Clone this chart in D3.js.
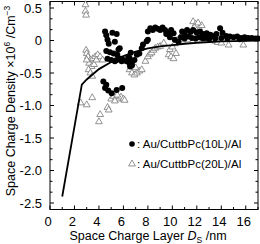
<!DOCTYPE html>
<html>
<head>
<meta charset="utf-8">
<style>
  body { margin: 0; background: #fff; }
  svg { display: block; font-family: "Liberation Sans", Arial, sans-serif; }
</style>
</head>
<body>
<svg width="260" height="244"></svg>
<script src="https://cdn.jsdelivr.net/npm/d3@7"></script>
<script>

// 10L series (filled dots), [Ds nm, density x1e6 C/m3]
var dots10L = [
  [4.5,0.14],[4.6,0.08],[5.1,0.12],[4.7,0.01],[5.3,-0.02],[4.8,-0.05],[5.45,0.1],
  [4.6,-0.16],[4.9,-0.18],[5.2,-0.2],[5.5,-0.22],[5.8,-0.28],[6.0,-0.3],[4.7,-0.28],
  [5.0,-0.3],[5.3,-0.32],[5.6,-0.14],[5.7,-0.12],
  [4.36,-0.63],[4.5,-0.73],[4.76,-0.77],[5.04,-0.81],[5.45,-0.76],[5.9,-0.73],[4.6,-0.68],
  [6.26,-0.32],[6.4,-0.25],[6.5,-0.27],[6.5,-0.35],[6.7,-0.38],[6.9,-0.3],[7.1,-0.22],
  [7.3,-0.2],[6.6,-0.19],[5.86,-0.32],[5.45,-0.3],[7.5,-0.12],[7.6,-0.06],[7.9,-0.01],
  [8.0,0.01],[6.55,-0.4],[6.7,-0.33],
  [8.0,0.14],[8.2,0.19],[8.4,0.16],[8.6,0.2],[8.8,0.18],[9.0,0.16],[9.2,0.2],[9.4,0.16],
  [9.5,0.1],[9.7,0.12],[9.9,0.16],[10.1,0.11],[10.2,0.01],[10.5,-0.02],[9.8,0.05],
  [10.8,0.14],[11.0,0.1],[11.2,0.16],[11.5,0.13],[11.7,0.16],[12.0,0.12],[12.25,0.14],
  [12.5,0.1],[12.8,0.11],[13.1,0.09],
  [10.7,0.05],[11.0,0.03],[11.3,0.06],[11.6,0.04],[11.9,0.03],[12.2,0.05],[12.5,0.03],
  [12.8,0.04],[13.0,0.02],
  [13.3,0.07],[13.6,0.1],[13.9,0.19],[14.1,0.12],[14.4,0.07],[14.7,0.06],[15.0,0.05],
  [15.3,0.06],[15.6,0.04],[15.9,0.05],[16.2,0.04],[16.5,0.04],[16.8,0.03],[17.0,0.03],
  [13.5,0.03],[14.0,0.04],[14.5,0.03],[15.5,0.02],[16.0,0.03]
];

// 20L series (open triangles)
var tris20L = [
  [2.9,0.55],[2.9,0.45],[2.95,0.39],
  [2.95,-0.15],[3.0,-0.2],[3.1,-0.25],[3.3,-0.3],[3.5,-0.28],[3.7,-0.25],[3.9,-0.22],
  [3.2,-0.35],[3.4,-0.4],[3.15,-0.45],[3.3,-0.5],[3.45,-0.55],[3.6,-0.37],[3.0,-0.3],
  [3.8,-0.3],[4.1,-0.25],[4.3,-0.3],
  [2.5,-0.96],[3.0,-0.99],[3.45,-0.88],
  [4.1,-1.14],[4.0,-1.25],[4.7,-1.03],[4.8,-1.07],
  [5.0,-0.9],[5.2,-0.86],[5.4,-0.88],[5.6,-0.9],[5.8,-0.87],[6.0,-0.9],[6.1,-0.92],
  [5.3,-0.93],[5.5,-0.84],
  [6.5,-0.45],[6.7,-0.5],[6.9,-0.53],[7.1,-0.5],[7.3,-0.47],[7.5,-0.45],[6.6,-0.37],[7.0,-0.42],
  [7.8,-0.32],[8.0,-0.25],[8.15,-0.21],[8.3,-0.19],[8.45,-0.15],[8.6,-0.12],[8.8,-0.1],
  [9.0,-0.09],[9.3,-0.04],
  [9.7,-0.22],[9.9,-0.25],[10.1,-0.28],[10.3,-0.2],[9.8,-0.14],[10.0,-0.1],[10.2,-0.05],
  [10.4,0.0],[10.6,0.04],
  [11.7,0.29],[11.9,0.25],[12.0,0.22],[12.2,0.19],[12.4,0.23],[11.8,0.2],[12.1,0.27],
  [10.9,0.01],[11.3,0.01],[11.7,0.0],[12.1,0.01],[12.5,0.01],[12.9,0.02],
  [13.2,0.02],[13.5,-0.01],[13.7,-0.03],[14.0,-0.04],[14.6,-0.07],[15.8,-0.07]
];

// fitted curve
var fitLine = [
  [1,-2.4],[2.6,-0.68],[3,-0.6],[4,-0.44],[5,-0.33],[6,-0.24],[7,-0.17],[8,-0.12],
  [9,-0.09],[10,-0.07],[11,-0.05],[12,-0.035],[13,-0.025],[14,-0.015],[15,-0.01],
  [16,-0.005],[17,0]
];

var xTicks = [0,2,4,6,8,10,12,14,16];
var yTicks = [0.5,0,-0.5,-1.0,-1.5,-2.0,-2.5];
var legendLabels = ["Au/CuttbPc(10L)/Al", "Au/CuttbPc(20L)/Al"];

var svg = d3.select("svg");
var x = d3.scaleLinear().domain([0, 17]).range([50, 258]);
var y = d3.scaleLinear().domain([-2.6, 0.6]).range([209.5, 1.5]);

var g = svg.append("g");

// frame
g.append("rect")
    .attr("x", 50).attr("y", 1.5)
    .attr("width", 208).attr("height", 208)
    .attr("fill", "none").attr("stroke", "#000").attr("stroke-width", 1);

// ticks all round, pointing in
var xMinor = d3.range(0, 18, 1);
var yMinor = d3.range(-2.5, 0.61, 1/6);
xMinor.forEach(function(v) {
  var len = v % 2 === 0 ? 4 : 2.5;
  g.append("line").attr("x1", x(v)).attr("x2", x(v)).attr("y1", 209.5).attr("y2", 209.5 - len).attr("stroke", "#000");
  g.append("line").attr("x1", x(v)).attr("x2", x(v)).attr("y1", 1.5).attr("y2", 1.5 + len).attr("stroke", "#000");
});
yMinor.forEach(function(v, i) {
  var len = i % 3 === 0 ? 4 : 2.5;
  g.append("line").attr("y1", y(v)).attr("y2", y(v)).attr("x1", 50).attr("x2", 50 + len).attr("stroke", "#000");
  g.append("line").attr("y1", y(v)).attr("y2", y(v)).attr("x1", 258).attr("x2", 258 - len).attr("stroke", "#000");
});

g.selectAll(".xl").data(xTicks).enter().append("text")
    .attr("x", function(d) { return x(d) - 2; })
    .attr("y", 226)
    .attr("text-anchor", "middle")
    .attr("font-size", 13)
    .text(function(d) { return d; });

g.selectAll(".yl").data(yTicks).enter().append("text")
    .attr("x", 42)
    .attr("y", function(d) { return y(d) + 4.5; })
    .attr("text-anchor", "end")
    .attr("font-size", 13)
    .text(function(d) { return d === 0 ? "0" : d.toFixed(1); });

// triangles
var tri = d3.symbol().type(d3.symbolTriangle).size(20);
g.selectAll(".tri").data(tris20L).enter().append("path")
    .attr("d", tri)
    .attr("transform", function(d) { return "translate(" + x(d[0]) + "," + y(d[1]) + ")"; })
    .attr("fill", "#fff")
    .attr("stroke", "#777")
    .attr("stroke-width", 0.8);

// dots
g.selectAll(".dot").data(dots10L).enter().append("circle")
    .attr("cx", function(d) { return x(d[0]); })
    .attr("cy", function(d) { return y(d[1]); })
    .attr("r", 3)
    .attr("fill", "#000");

// fit line
g.append("path")
    .datum(fitLine)
    .attr("d", d3.line().x(function(d) { return x(d[0]); }).y(function(d) { return y(d[1]); }))
    .attr("fill", "none")
    .attr("stroke", "#000")
    .attr("stroke-width", 1.8);

// legend
g.append("circle").attr("cx", 132).attr("cy", 144).attr("r", 2.8).attr("fill", "#000");
g.append("path").attr("d", tri).attr("transform", "translate(132,164)")
    .attr("fill", "#fff").attr("stroke", "#777").attr("stroke-width", 0.8);
legendLabels.forEach(function(t, i) {
  g.append("text").attr("x", 137).attr("y", 148 + i * 20)
      .attr("font-size", 11.5).text(": " + t);
});

// axis titles
var xt = g.append("text").attr("x", 148).attr("y", 240)
    .attr("text-anchor", "middle").attr("font-size", 12.5);
xt.append("tspan").text("Space Charge Layer ");
xt.append("tspan").attr("font-style", "italic").text("D");
xt.append("tspan").attr("font-size", 8.5).attr("dy", 3).text("S");
xt.append("tspan").attr("dy", -3).text(" /nm");

var yt = g.append("text")
    .attr("transform", "translate(15,101) rotate(-90)")
    .attr("text-anchor", "middle").attr("font-size", 12.5);
yt.append("tspan").text("Space Charge Density \u00d710");
yt.append("tspan").attr("font-size", 8.5).attr("dy", -5).text("6");
yt.append("tspan").attr("dy", 5).text(" /Cm");
yt.append("tspan").attr("font-size", 8.5).attr("dy", -5).text("\u22123");

</script>
</body>
</html>
